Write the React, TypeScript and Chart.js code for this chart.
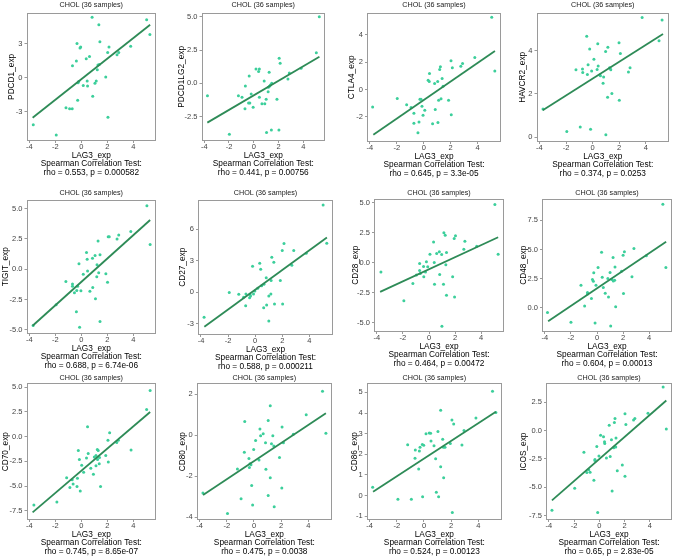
import React, { useEffect, useRef } from "react";
import { Chart, registerables } from "chart.js";

Chart.register(...registerables);

type Pt = [number, number];

const TITLE = "CHOL (36 samples)";
const X_LABEL = "LAG3_exp";
const STAT_LABEL = "Spearman Correlation Test:";
const X_TICKS = [-4, -2, 0, 2, 4];
const X_RANGE = [-4.22, 5.75];
const LINE_X = [-3.75, 5.3];

// ---------- PDCD1 ----------
const PDCD1_PTS: Pt[] = [
  [0.83, 5.3], [5.03, 5.1], [1.35, 4.65], [5.28, 3.8], [1.43, 3.15], [-0.33, 3.0], [2.13, 2.7], [-0.05, 2.7], [-0.1, 2.6],
  [3.8, 2.75], [0.63, 1.85], [2.03, 2.2], [2.88, 2.2], [2.75, 2.0], [0.38, 1.65], [-0.38, 1.45], [-0.68, 1.05], [1.28, 1.1],
  [1.38, 1.15], [1.23, 0.7], [1.88, 0.05], [-0.2, -0.35], [0.45, -0.3], [1.15, -0.3], [1.05, -0.5], [0.15, -0.7], [0.48, -0.75],
  [-0.28, -2.0], [0.88, -1.65], [-1.18, -2.65], [-0.9, -2.75], [-0.7, -2.75], [2.05, -3.5], [-3.7, -4.15], [-1.93, -5.05], [-0.25, -0.45],
];
const PDCD1_LINE = [-3.53, 4.65];
const PDCD1_YRANGE = [-5.58, 5.71];
const PDCD1_YTICKS = [-3, 0, 3];

// ---------- PDCD1LG2 ----------
const PDCD1LG2_PTS: Pt[] = [
  [5.29, 5.0], [5.05, 2.3], [2.05, 1.88], [2.13, 1.5], [0.18, 1.08], [0.45, 1.08], [0.39, 0.88], [1.24, 0.83], [-0.37, 0.55],
  [2.87, 0.78], [3.82, 1.13], [0.84, 0.18], [2.76, 0.33], [1.45, 0.0], [1.34, -0.13], [1.18, -0.3], [1.26, -0.22], [1.16, -0.63],
  [-0.68, -0.2], [-0.21, -0.8], [-1.24, -0.93], [-0.95, -1.05], [-3.74, -0.93], [0.45, -1.05], [-0.42, -1.48], [-0.32, -1.48],
  [1.0, -1.2], [1.87, -1.2], [0.66, -1.53], [0.89, -1.53], [-0.71, -1.9], [-0.05, -1.8], [1.03, -3.7], [1.42, -3.5], [2.03, -3.5], [-1.97, -3.83],
];
const PDCD1LG2_LINE = [-2.95, 2.0];
const PDCD1LG2_YRANGE = [-4.33, 5.3];
const PDCD1LG2_YTICKS = [-2.5, 0, 2.5, 5];

// ---------- CTLA4 ----------
const CTLA4_PTS: Pt[] = [
  [5.06, 5.27], [5.29, 1.34], [3.8, 2.34], [2.03, 2.1], [2.89, 1.9], [2.76, 1.7], [2.13, 1.59], [1.24, 1.66], [1.19, 1.46],
  [0.43, 1.17], [1.37, 0.8], [0.33, 0.68], [0.41, 0.59], [1.04, 0.59], [0.81, 0.44], [1.44, 0.24], [-3.8, -1.27], [-1.97, -0.66],
  [-0.28, -0.71], [-0.2, -0.71], [1.29, -0.68], [1.11, -0.78], [1.85, -0.78], [-1.27, -1.12], [-0.94, -1.32], [-0.13, -1.22],
  [0.08, -1.51], [0.86, -1.46], [-0.73, -1.73], [-0.05, -1.88], [2.05, -1.85], [-0.35, -2.37], [-0.73, -2.46], [1.06, -2.41], [0.66, -2.49], [-0.43, -3.15],
];
const CTLA4_LINE = [-3.3, 2.8];
const CTLA4_YRANGE = [-3.83, 5.6];
const CTLA4_YTICKS = [-2, 0, 2, 4];

// ---------- HAVCR2 ----------
const HAVCR2_PTS: Pt[] = [
  [3.73, 5.55], [5.23, 5.43], [5.0, 4.47], [-0.44, 4.68], [0.39, 4.33], [1.15, 4.17], [1.99, 4.37], [0.98, 3.97], [-0.22, 4.08],
  [2.09, 3.88], [0.1, 3.61], [-0.34, 3.35], [0.42, 3.3], [-1.25, 3.12], [-0.76, 3.16], [-0.74, 3.0], [0.34, 3.13], [-0.07, 3.07],
  [1.28, 3.21], [1.37, 3.12], [2.82, 3.21], [2.7, 3.02], [-0.39, 2.9], [0.59, 2.85], [0.83, 2.79], [0.79, 2.5], [1.45, 2.02],
  [1.13, 1.85], [2.01, 1.71], [-3.73, 1.3], [-0.93, 0.47], [-1.94, 0.26], [-0.15, 0.36], [1.0, 0.11], [1.32, 3.18], [0.55, 2.88],
];
const HAVCR2_LINE = [1.24, 4.78];
const HAVCR2_YRANGE = [-0.23, 5.77];
const HAVCR2_YTICKS = [0, 2, 4];

// ---------- TIGIT ----------
const TIGIT_PTS: Pt[] = [
  [5.05, 5.23], [5.3, 2.03], [3.81, 3.1], [2.88, 2.82], [2.75, 2.49], [2.07, 2.68], [2.15, 2.68], [1.29, 2.33], [0.4, 1.37],
  [1.44, 1.18], [1.06, 1.12], [0.86, 0.9], [0.45, 0.82], [1.21, 0.36], [-0.18, 0.44], [0.48, -0.14], [1.34, -0.3], [0.15, -0.41],
  [1.89, -0.38], [1.19, -0.63], [-1.19, -1.01], [-0.68, -1.23], [-0.68, -1.4], [2.02, -1.07], [0.88, -1.51], [-0.28, -1.4],
  [-0.35, -1.75], [-0.03, -1.78], [0.66, -1.81], [-0.53, -1.95], [1.09, -2.44], [-1.94, -2.93], [-0.38, -3.51], [1.44, -4.3], [-3.71, -4.63], [-0.13, -4.79],
];
const TIGIT_LINE = [-4.66, 4.05];
const TIGIT_YRANGE = [-5.34, 5.74];
const TIGIT_YTICKS = [-5, -2.5, 0, 2.5, 5];

// ---------- CD27 ----------
const CD27_PTS: Pt[] = [
  [5.02, 8.29], [5.29, 4.65], [2.13, 4.62], [2.0, 3.96], [2.85, 3.96], [3.77, 3.7], [1.23, 3.32], [1.38, 2.85], [0.34, 2.75],
  [-0.19, 2.47], [2.71, 2.56], [0.41, 2.18], [0.82, 1.39], [1.86, 1.11], [1.18, 1.11], [0.65, 0.76], [0.48, 0.63], [0.19, 0.38],
  [-0.02, 0.13], [-1.91, -0.03], [-1.21, -0.19], [-0.12, -0.16], [-0.39, -0.19], [-0.34, -0.35], [-0.68, -0.16], [-0.85, -0.47],
  [-0.41, -0.51], [1.16, -0.16], [1.01, -0.35], [-0.7, -1.27], [1.43, -1.11], [2.03, -1.11], [0.85, -1.2], [0.63, -1.46], [1.01, -2.72], [-3.77, -2.37],
];
const CD27_LINE = [-3.26, 5.19];
const CD27_YRANGE = [-4.05, 8.8];
const CD27_YTICKS = [-3, 0, 3, 6];

// ---------- CD28 ----------
const CD28_PTS: Pt[] = [
  [5.05, 4.83], [5.3, 0.69], [1.14, 2.47], [1.24, 2.28], [2.03, 2.22], [1.93, 2.0], [2.75, 1.78], [2.67, 1.11], [3.66, 1.36],
  [0.35, 1.72], [0.07, 0.69], [0.59, 0.75], [0.79, 0.89], [0.97, 0.67], [1.34, 0.83], [-0.72, -0.08], [-0.2, 0.06], [-0.42, -0.33],
  [-0.1, -0.36], [0.4, 0.0], [1.29, -0.19], [-0.97, -1.03], [-0.72, -0.67], [-0.67, -0.92], [-0.27, -0.78], [-0.4, -1.19],
  [0.82, -1.0], [-3.69, -0.78], [-1.24, -1.75], [0.42, -1.8], [1.11, -1.8], [1.81, -1.19], [1.34, -2.72], [1.96, -2.86], [-1.93, -3.17], [0.99, -5.31],
];
const CD28_LINE = [-2.44, 2.11];
const CD28_YRANGE = [-5.78, 5.33];
const CD28_YTICKS = [-5, -2.5, 0, 2.5, 5];

// ---------- CD48 ----------
const CD48_PTS: Pt[] = [
  [5.05, 8.86], [5.28, 3.46], [3.78, 4.46], [2.83, 5.09], [2.1, 4.8], [2.0, 4.51], [0.35, 4.77], [1.23, 4.31], [1.38, 3.51],
  [0.08, 3.46], [-0.25, 3.0], [1.0, 3.03], [1.88, 3.14], [2.68, 2.66], [0.4, 2.63], [-0.35, 2.43], [-0.28, 2.29], [0.83, 2.51],
  [1.13, 2.43], [1.25, 2.31], [1.35, 2.37], [-1.23, 1.94], [-0.08, 1.94], [0.48, 1.74], [-0.73, 1.31], [-0.73, 1.2], [0.63, 1.26],
  [2.03, 1.23], [0.88, 0.94], [-0.43, 0.8], [-0.95, 0.17], [1.43, 0.11], [-3.8, -0.4], [-2.0, -1.23], [-0.15, -1.29], [1.05, -1.54],
];
const CD48_LINE = [-1.14, 5.66];
const CD48_YRANGE = [-2.06, 9.36];
const CD48_YTICKS = [0, 2.5, 5, 7.5];

// ---------- CD70 ----------
const CD70_PTS: Pt[] = [
  [5.3, 4.66], [5.03, 2.74], [0.48, 1.0], [2.18, 0.4], [2.05, -0.37], [2.85, -0.37], [2.73, -0.6], [-0.23, -1.4], [1.23, -1.3],
  [1.3, -1.4], [0.53, -1.7], [3.83, -1.35], [1.13, -1.9], [1.88, -1.9], [-0.15, -2.3], [0.4, -2.15], [2.08, -2.57], [1.4, -2.1],
  [1.25, -2.3], [1.38, -2.75], [0.03, -2.9], [0.73, -3.2], [1.13, -2.95], [0.18, -3.6], [0.93, -3.8], [-1.13, -4.15], [-0.3, -4.2],
  [-0.7, -4.35], [-0.63, -4.8], [-0.88, -5.15], [-0.33, -5.05], [1.48, -5.05], [-0.08, -5.5], [-1.88, -6.6], [-3.65, -6.9], [1.0, -2.05],
];
const CD70_LINE = [-7.66, 2.5];
const CD70_YRANGE = [-8.43, 5.4];
const CD70_YTICKS = [-7.5, -5, -2.5, 0, 2.5, 5];

// ---------- CD80 ----------
const CD80_PTS: Pt[] = [
  [5.05, 2.15], [5.3, 0.1], [1.2, 1.44], [3.85, 1.0], [1.05, 0.72], [-0.68, 0.67], [2.07, 0.41], [0.44, 0.31], [0.68, 0.07],
  [0.49, -0.02], [1.39, -0.02], [2.9, 0.05], [0.12, -0.26], [0.85, -0.36], [1.29, -0.42], [2.17, -0.36], [1.46, -0.52], [-0.02, -0.69],
  [-0.71, -0.83], [-0.37, -1.14], [0.37, -1.21], [1.88, -1.09], [-0.29, -1.39], [-0.22, -1.44], [-0.34, -1.57], [-1.22, -1.65],
  [0.88, -1.66], [1.2, -2.07], [-0.17, -2.46], [2.05, -2.58], [-3.76, -2.82], [-0.95, -3.1], [1.05, -2.94], [-0.1, -3.41], [1.49, -3.49], [-1.95, -3.82],
];
const CD80_LINE = [-2.92, 1.08];
const CD80_YRANGE = [-4.14, 2.54];
const CD80_YTICKS = [-4, -2, 0, 2];

// ---------- CD86 ----------
const CD86_PTS: Pt[] = [
  [5.05, 5.05], [5.3, 4.02], [1.23, 4.13], [3.83, 3.76], [2.06, 3.66], [2.19, 3.47], [2.95, 3.16], [1.03, 3.11], [0.39, 3.03],
  [0.49, 3.02], [0.15, 3.0], [0.52, 2.65], [1.38, 2.73], [1.94, 2.53], [-0.12, 2.48], [-0.02, 2.44], [-1.2, 2.47], [2.8, 2.45],
  [1.55, 2.34], [1.43, 2.34], [-0.29, 2.34], [0.74, 2.42], [-0.64, 2.21], [-0.34, 2.16], [-0.66, 1.81], [0.86, 1.79], [1.23, 1.4],
  [-0.39, 1.29], [1.45, 0.87], [-3.78, 0.4], [0.91, 0.16], [-0.1, -0.06], [1.08, -0.06], [-1.92, -0.18], [-0.93, -0.18], [2.09, -0.82],
];
const CD86_LINE = [0.19, 4.06];
const CD86_YRANGE = [-1.18, 5.44];
const CD86_YTICKS = [-1, 0, 1, 2, 3, 4, 5];

// ---------- ICOS ----------
const ICOS_PTS: Pt[] = [
  [5.05, 3.82], [5.3, 0.12], [3.85, 1.52], [2.81, 1.06], [2.71, 0.91], [2.03, 1.48], [2.1, 0.52], [1.24, 1.06], [1.19, 0.7],
  [0.78, 0.45], [0.1, -0.42], [0.33, -0.55], [0.41, -1.0], [0.43, -1.15], [1.32, -0.67], [0.96, -0.82], [1.14, -1.52], [-0.2, -1.42],
  [-1.22, -1.91], [-0.03, -2.24], [0.86, -2.3], [0.56, -2.42], [-0.35, -2.55], [-0.35, -2.64], [1.82, -3.03], [1.42, -3.55],
  [-0.84, -3.45], [-0.73, -3.67], [-0.99, -3.7], [2.03, -4.03], [-0.43, -4.39], [-1.95, -5.09], [1.01, -5.33], [-3.75, -7.03], [-0.13, -7.21], [1.3, -1.45],
];
const ICOS_LINE = [-6.15, 2.64];
const ICOS_YRANGE = [-7.88, 4.15];
const ICOS_YTICKS = [-7.5, -5, -2.5, 0, 2.5];

const GENES = ["PDCD1_exp", "PDCD1LG2_exp", "CTLA4_exp", "HAVCR2_exp", "TIGIT_exp", "CD27_exp", "CD28_exp", "CD48_exp", "CD70_exp", "CD80_exp", "CD86_exp", "ICOS_exp"];
const STATS = [
  "rho = 0.553, p = 0.000582", "rho = 0.441, p = 0.00756", "rho = 0.645, p = 3.3e-05", "rho = 0.374, p = 0.0253",
  "rho = 0.688, p = 6.74e-06", "rho = 0.588, p = 0.000211", "rho = 0.464, p = 0.00472", "rho = 0.604, p = 0.00013",
  "rho = 0.745, p = 8.65e-07", "rho = 0.475, p = 0.0038", "rho = 0.524, p = 0.00123", "rho = 0.65, p = 2.83e-05",
];

const PANELS = [
  { pts: PDCD1_PTS, line: PDCD1_LINE, yRange: PDCD1_YRANGE, yTicks: PDCD1_YTICKS },
  { pts: PDCD1LG2_PTS, line: PDCD1LG2_LINE, yRange: PDCD1LG2_YRANGE, yTicks: PDCD1LG2_YTICKS },
  { pts: CTLA4_PTS, line: CTLA4_LINE, yRange: CTLA4_YRANGE, yTicks: CTLA4_YTICKS },
  { pts: HAVCR2_PTS, line: HAVCR2_LINE, yRange: HAVCR2_YRANGE, yTicks: HAVCR2_YTICKS },
  { pts: TIGIT_PTS, line: TIGIT_LINE, yRange: TIGIT_YRANGE, yTicks: TIGIT_YTICKS },
  { pts: CD27_PTS, line: CD27_LINE, yRange: CD27_YRANGE, yTicks: CD27_YTICKS },
  { pts: CD28_PTS, line: CD28_LINE, yRange: CD28_YRANGE, yTicks: CD28_YTICKS },
  { pts: CD48_PTS, line: CD48_LINE, yRange: CD48_YRANGE, yTicks: CD48_YTICKS },
  { pts: CD70_PTS, line: CD70_LINE, yRange: CD70_YRANGE, yTicks: CD70_YTICKS },
  { pts: CD80_PTS, line: CD80_LINE, yRange: CD80_YRANGE, yTicks: CD80_YTICKS },
  { pts: CD86_PTS, line: CD86_LINE, yRange: CD86_YRANGE, yTicks: CD86_YTICKS },
  { pts: ICOS_PTS, line: ICOS_LINE, yRange: ICOS_YRANGE, yTicks: ICOS_YTICKS },
].map((p, i) => ({ ...p, gene: GENES[i], stat: STATS[i] }));

// ---------- layout (page pixels) ----------
const COL_LEFT = [0, 169, 338, 507];
const ROW_TOP = [0, 185, 370];
const ROW_TITLE_Y = [5.3, 193.3, 378.3];
// plot box per panel: [left, top, right, bottom]
const BOXES: number[][] = [
  [26.5, 12.7, 156.7, 140.5], [201.5, 12.7, 326, 141], [367, 12.7, 502, 141.5], [536.5, 12.7, 670.3, 141.5],
  [26.5, 199.5, 156.7, 334], [198, 199.5, 333.5, 334.5], [374, 198.5, 504.5, 332], [542, 198.5, 673, 332],
  [26.5, 383.3, 156.7, 520], [196.7, 383.3, 333, 520], [366.7, 383.3, 502.5, 520], [546, 383.3, 673, 520],
];
const Y_TITLE_X = [11.7, 181.7, 351.7, 523, 5.7, 182.3, 355.7, 523.7, 5.7, 182.7, 355, 523.7];

const FONT = '"Liberation Sans", Arial, Helvetica, sans-serif';
const PT_COLOR = "#3ccf9b";
const LINE_COLOR = "#2e8b57";
const BORDER_COLOR = "#9a9a9a";
const TICK_COLOR = "#444444";
const AXIS_FS = 8.3;
const AXIS_LH = 8.7;
const TITLE_FS = 7.2;
const TITLE_LH = 8.64;
const TICK_FS = 7.5;
const X_AXIS_H = 36;
const RIGHT_PAD = 3;

const borderPlugin = {
  id: "panelBorder",
  afterDatasetsDraw(chart: any) {
    const { ctx, chartArea: a } = chart;
    ctx.save();
    ctx.strokeStyle = BORDER_COLOR;
    ctx.lineWidth = 1;
    const l = Math.round(a.left) + 0.5;
    const t = Math.round(a.top) + 0.5;
    const r = Math.round(a.right) - 0.5;
    const b = Math.round(a.bottom) - 0.5;
    ctx.strokeRect(l, t, r - l, b - t);
    ctx.restore();
  },
};

function decimals(ticks: number[]) {
  return ticks.some((v) => Math.abs(v - Math.round(v)) > 1e-9) ? 1 : 0;
}

function Panel({ idx }: { idx: number }) {
  const ref = useRef<HTMLCanvasElement | null>(null);
  const p = PANELS[idx];
  const col = idx % 4;
  const row = Math.floor(idx / 4);
  const cellL = COL_LEFT[col];
  const cellT = ROW_TOP[row];
  const [bl, bt, br, bb] = BOXES[idx];
  const width = Math.round(br + RIGHT_PAD - cellL);
  const height = Math.round(bb + X_AXIS_H - cellT);
  const titleY = ROW_TITLE_Y[row];

  useEffect(() => {
    if (!ref.current) return;
    const dec = decimals(p.yTicks);
    const chart = new Chart(ref.current, {
      type: "scatter",
      data: {
        datasets: [
          {
            data: [
              { x: LINE_X[0], y: p.line[0] },
              { x: LINE_X[1], y: p.line[1] },
            ],
            showLine: true,
            borderColor: LINE_COLOR,
            borderWidth: 1.8,
            pointRadius: 0,
            fill: false,
          } as any,
          {
            data: p.pts.map(([x, y]) => ({ x, y })),
            backgroundColor: PT_COLOR,
            borderWidth: 0,
            pointRadius: 1.5,
          },
        ],
      },
      options: {
        animation: false,
        responsive: false,
        maintainAspectRatio: false,
        layout: { padding: { left: 0, right: RIGHT_PAD, top: 0, bottom: 0 } },
        plugins: {
          legend: { display: false },
          tooltip: { enabled: false },
          title: {
            display: true,
            text: TITLE,
            fullSize: false,
            color: "#1a1a1a",
            font: { family: FONT, size: TITLE_FS, lineHeight: TITLE_LH / TITLE_FS, weight: "normal" },
            padding: { top: titleY - cellT - TITLE_LH / 2, bottom: bt - titleY - TITLE_LH / 2 },
          },
        },
        scales: {
          x: {
            type: "linear",
            min: X_RANGE[0],
            max: X_RANGE[1],
            afterBuildTicks: (s: any) => {
              s.ticks = X_TICKS.map((v) => ({ value: v }));
            },
            afterFit: (s: any) => {
              s.height = X_AXIS_H;
            },
            grid: { display: true, drawOnChartArea: false, drawTicks: true, tickLength: 2, color: BORDER_COLOR },
            border: { display: false },
            ticks: {
              autoSkip: false,
              maxRotation: 0,
              padding: 0,
              color: TICK_COLOR,
              font: { family: FONT, size: TICK_FS, lineHeight: 1 },
              callback: (v: any) => String(v),
            },
            title: {
              display: true,
              text: [X_LABEL, STAT_LABEL, p.stat],
              color: "#000",
              font: { family: FONT, size: AXIS_FS, lineHeight: AXIS_LH / AXIS_FS },
              padding: { top: 0, bottom: 0 },
            },
          },
          y: {
            type: "linear",
            min: p.yRange[0],
            max: p.yRange[1],
            afterBuildTicks: (s: any) => {
              s.ticks = p.yTicks.map((v) => ({ value: v }));
            },
            afterFit: (s: any) => {
              s.width = bl - cellL;
            },
            grid: { display: true, drawOnChartArea: false, drawTicks: true, tickLength: 2, color: BORDER_COLOR },
            border: { display: false },
            ticks: {
              autoSkip: false,
              padding: 2,
              color: TICK_COLOR,
              font: { family: FONT, size: TICK_FS, lineHeight: 1 },
              callback: (v: any) => Number(v).toFixed(dec),
            },
            title: {
              display: true,
              text: p.gene,
              color: "#000",
              font: { family: FONT, size: AXIS_FS, lineHeight: AXIS_LH / AXIS_FS },
              padding: { top: Y_TITLE_X[idx] - cellL - AXIS_LH / 2, bottom: 0 },
            },
          },
        },
      },
      plugins: [borderPlugin],
    });
    return () => chart.destroy();
  }, [idx]);

  return (
    <div style={{ position: "absolute", left: cellL, top: cellT, width, height }}>
      <canvas ref={ref} width={width} height={height} style={{ width, height, display: "block" }} />
    </div>
  );
}

export default function App() {
  useEffect(() => {
    document.body.style.margin = "0";
  }, []);
  return (
    <div style={{ position: "relative", width: 677, height: 556, overflow: "hidden", background: "#fff" }}>
      {PANELS.map((_, i) => (
        <Panel key={i} idx={i} />
      ))}
    </div>
  );
}
